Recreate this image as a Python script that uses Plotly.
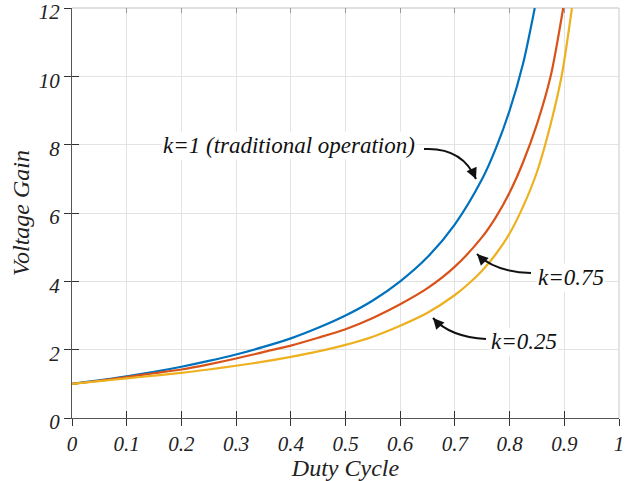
import plotly.graph_objects as go

# ---- data ----
duty_k1 = [0, 0.05, 0.1, 0.15, 0.2, 0.25, 0.3, 0.35, 0.4, 0.45, 0.5, 0.55, 0.6, 0.65, 0.7, 0.75, 0.775, 0.8, 0.825, 0.846]
gain_k1 = [1.0, 1.1, 1.22, 1.35, 1.5, 1.67, 1.86, 2.08, 2.33, 2.64, 3.0, 3.44, 4.0, 4.71, 5.67, 7.0, 7.9, 9.0, 10.4, 12.0]

duty_k075 = [0, 0.05, 0.1, 0.15, 0.2, 0.25, 0.3, 0.35, 0.4, 0.45, 0.5, 0.55, 0.6, 0.65, 0.7, 0.75, 0.775, 0.8, 0.825, 0.85, 0.875, 0.898]
gain_k075 = [1.0, 1.09, 1.2, 1.31, 1.42, 1.57, 1.74, 1.93, 2.12, 2.35, 2.6, 2.93, 3.33, 3.8, 4.43, 5.3, 5.88, 6.6, 7.5, 8.6, 10.0, 12.0]

duty_k025 = [0, 0.05, 0.1, 0.15, 0.2, 0.25, 0.3, 0.35, 0.4, 0.45, 0.5, 0.55, 0.6, 0.65, 0.7, 0.725, 0.75, 0.775, 0.8, 0.825, 0.85, 0.875, 0.895, 0.914]
gain_k025 = [1.0, 1.08, 1.16, 1.24, 1.32, 1.42, 1.53, 1.65, 1.79, 1.95, 2.14, 2.38, 2.7, 3.08, 3.6, 3.93, 4.32, 4.8, 5.4, 6.2, 7.2, 8.6, 10.0, 12.0]

x_ticks = [0, 0.1, 0.2, 0.3, 0.4, 0.5, 0.6, 0.7, 0.8, 0.9, 1]
x_tick_labels = ["0", "0.1", "0.2", "0.3", "0.4", "0.5", "0.6", "0.7", "0.8", "0.9", "1"]
y_ticks = [0, 2, 4, 6, 8, 10, 12]

# ---- styling ----
W, H = 633, 481
ML, MR, MT, MB = 72, 14, 8, 63
FONT = "Liberation Serif"
BLUE, RED, YELLOW = "#0072BD", "#D95319", "#EDB120"

fig = go.Figure()
for xs, ys, col in [(duty_k1, gain_k1, BLUE), (duty_k075, gain_k075, RED), (duty_k025, gain_k025, YELLOW)]:
    fig.add_trace(go.Scatter(x=xs, y=ys, mode="lines", line=dict(color=col, width=2.2, shape="spline", smoothing=0.8),
                             showlegend=False, hoverinfo="skip"))

# dummy traces so the overlay (tick-only) axes are drawn
fig.add_trace(go.Scatter(x=[0], y=[0], xaxis="x2", yaxis="y2", mode="markers", marker=dict(opacity=0), showlegend=False, hoverinfo="skip"))
fig.add_trace(go.Scatter(x=[0], y=[0], xaxis="x3", yaxis="y2", mode="markers", marker=dict(opacity=0), showlegend=False, hoverinfo="skip"))

tickfont = dict(family=FONT, size=21, color="#222")
titlefont = dict(family=FONT, size=24, color="#222")

fig.update_layout(
    width=W, height=H,
    margin=dict(l=ML, r=MR, t=MT, b=MB, autoexpand=False),
    paper_bgcolor="white", plot_bgcolor="white",
    xaxis=dict(range=[0, 1], tickvals=x_ticks, ticktext=["<i>%s</i>" % t for t in x_tick_labels],
               ticks="outside", ticklen=7, tickwidth=1.3, tickcolor="#333",
               showline=True, linecolor="#555", linewidth=1.3, mirror=False,
               showgrid=True, gridcolor="#e3e3e3", gridwidth=1, zeroline=False,
               tickfont=tickfont, ticklabeloverflow="allow", automargin=False,
               title=dict(text="<i>Duty Cycle</i>", font=titlefont, standoff=2)),
    yaxis=dict(range=[0, 12], tickvals=y_ticks, ticktext=["<i>%d</i>" % t for t in y_ticks],
               ticks="outside", ticklen=7, tickwidth=1.3, tickcolor="#333",
               showline=True, linecolor="#555", linewidth=1.3,
               showgrid=True, gridcolor="#e3e3e3", gridwidth=1, zeroline=False,
               tickfont=tickfont, ticklabeloverflow="allow", automargin=False, ticklabelshift=4,
               title=dict(text="<i>Voltage Gain</i>", font=titlefont, standoff=2)),
    xaxis2=dict(range=[0, 1], overlaying="x", side="bottom", tickvals=x_ticks, ticks="inside", ticklen=7,
                tickwidth=1.3, tickcolor="#333", showticklabels=False, showgrid=False, zeroline=False, showline=False,
                automargin=False),
    xaxis3=dict(range=[0, 1], overlaying="x", side="top", tickvals=x_ticks, ticks="inside", ticklen=5,
                tickwidth=1.3, tickcolor="#999", showticklabels=False, showgrid=False, zeroline=False,
                showline=False, automargin=False),
    yaxis2=dict(range=[0, 12], overlaying="y", side="left", tickvals=y_ticks, ticks="inside", ticklen=7,
                tickwidth=1.3, tickcolor="#333", showticklabels=False, showgrid=False, zeroline=False, showline=False,
                automargin=False),
)

# light frame on top and right
fig.add_shape(type="line", xref="paper", yref="paper", x0=0, x1=1, y0=1, y1=1, line=dict(color="#d6d6d6", width=1.3), layer="below")
fig.add_shape(type="line", xref="paper", yref="paper", x0=1, x1=1, y0=0, y1=1, line=dict(color="#d6d6d6", width=1.3), layer="below")

# pixel -> data helpers for annotation decorations
PW = W - ML - MR
PH = H - MT - MB
def px2x(px):
    return (px - ML) / PW
def py2y(py):
    return (H - MB - py) / PH * 12

annos = [
    ("<i>k=1 (traditional operation)</i>", 288.5, 145.5),
    ("<i>k=0.75</i>", 571, 277.5),
    ("<i>k=0.25</i>", 524, 341.5),
]
for txt, px, py in annos:
    fig.add_annotation(x=px2x(px), y=py2y(py), text=txt, showarrow=False, xref="x", yref="y",
                       font=dict(family=FONT, size=23, color="#111"), bgcolor="white", borderpad=1)

# curved arrows: (tail, control, tip) in pixels
arrows = [
    ((424, 149), (462, 147), (476, 179)),
    ((531, 273), (495, 272), (477, 254)),
    ((486, 339), (450, 337), (433, 318)),
]
for (x0, y0), (cx, cy), (x1, y1) in arrows:
    path = "M %f,%f Q %f,%f %f,%f" % (px2x(x0), py2y(y0), px2x(cx), py2y(cy), px2x(x1), py2y(y1))
    fig.add_shape(type="path", path=path, xref="x", yref="y", line=dict(color="#111", width=2))
    dx, dy = x1 - cx, y1 - cy
    n = (dx * dx + dy * dy) ** 0.5
    fig.add_annotation(x=px2x(x1), y=py2y(y1), ax=-dx / n * 10, ay=-dy / n * 10, axref="pixel", ayref="pixel",
                       text="", showarrow=True, arrowhead=2, arrowsize=1.1, arrowwidth=2, arrowcolor="#111",
                       xref="x", yref="y")

fig.write_html("out.html")
